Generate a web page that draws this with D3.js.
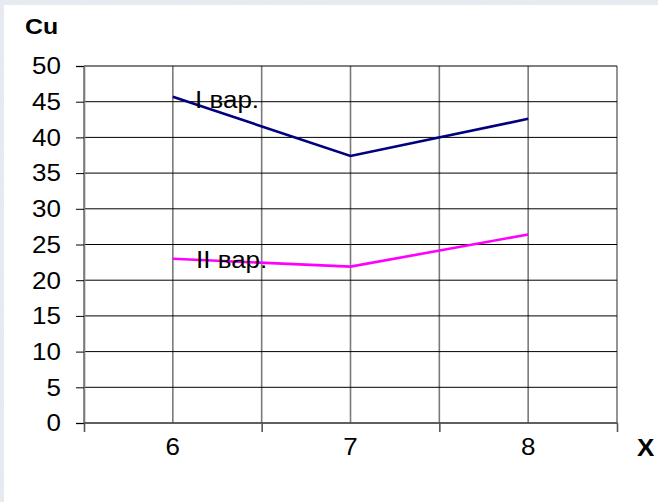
<!DOCTYPE html>
<html>
<head>
<meta charset="utf-8">
<script src="https://cdn.jsdelivr.net/npm/d3@7/dist/d3.min.js"></script>
<style>
  html, body { margin: 0; padding: 0; background: #fff; }
  svg { display: block; }
  text { font-family: "Liberation Sans", Arial, sans-serif; fill: #000; }
</style>
</head>
<body>
<svg id="chart" width="658" height="502"></svg>
<script>
// Categories along X and the two series of Cu values
const categories = ["6", "7", "8"];
const seriesI = [45.7, 37.4, 42.6];
const seriesII = [23.0, 21.9, 26.4];
const seriesNames = ["I вар.", "II вар."];
const yTicks = [0, 5, 10, 15, 20, 25, 30, 35, 40, 45, 50];

const svg = d3.select("#chart");
const W = 658, H = 502;
const FS = 23, SX = 1.13; // label size and horizontal stretch of the lettering

// Textured frame behind the white sheet
const defs = svg.append("defs");
const f = defs.append("filter").attr("id", "marble").attr("x", 0).attr("y", 0).attr("width", 1).attr("height", 1);
f.append("feTurbulence").attr("type", "fractalNoise").attr("baseFrequency", "0.08 0.25").attr("numOctaves", 3).attr("seed", 4);
f.append("feColorMatrix").attr("type", "matrix")
  .attr("values", "0 0 0 0 0.80  0 0 0 0 0.84  0 0 0 0 0.89  0 0 0 -1.1 1.0");
svg.append("rect").attr("width", W).attr("height", H).attr("fill", "#e6eaef");
svg.append("rect").attr("width", W).attr("height", H).attr("filter", "url(#marble)");
svg.append("rect").attr("x", 4).attr("y", 5).attr("width", W - 4).attr("height", H - 5).attr("fill", "#fff");

const plotL = 84, plotR = 617, plotT = 66, plotB = 423;

const x = d3.scaleLinear().domain([-0.5, categories.length - 0.5]).range([plotL, plotR]);
const y = d3.scaleLinear().domain([0, 50]).range([plotB, plotT]);

// Text helper: stretched lettering placed at (px, py)
function label(g, px, py, str, opts = {}) {
  return g.append("text")
    .attr("transform", `translate(${px},${py}) scale(${SX},1)`)
    .attr("font-size", opts.size || FS)
    .attr("font-weight", opts.bold ? "bold" : "normal")
    .attr("text-anchor", opts.anchor || "start")
    .attr("dominant-baseline", opts.baseline || "auto")
    .text(str);
}

// Vertical grid at category centres and boundaries
const vGrid = d3.range(-0.5, categories.length - 0.5 + 0.01, 0.5);
svg.append("g").selectAll("line").data(vGrid).join("line")
  .attr("x1", d => x(d)).attr("x2", d => x(d))
  .attr("y1", plotT).attr("y2", plotB)
  .attr("stroke", "#7a7a7a").attr("stroke-width", 1.6);

// Horizontal grid
svg.append("g").selectAll("line").data(yTicks).join("line")
  .attr("x1", plotL).attr("x2", plotR)
  .attr("y1", d => y(d)).attr("y2", d => y(d))
  .attr("stroke", "#000").attr("stroke-width", 1);

// Y axis with tick marks; labels drawn separately
const yAxis = svg.append("g").attr("transform", `translate(${plotL},0)`)
  .call(d3.axisLeft(y).tickValues(yTicks).tickSize(8).tickFormat(""));
yAxis.select(".domain").attr("stroke", "#7a7a7a").attr("stroke-width", 1.6);
yAxis.selectAll(".tick line").attr("stroke", "#000");
const yLab = svg.append("g");
yTicks.forEach(t => label(yLab, 61, y(t) + 8.3, String(t), { anchor: "end" }));

// X axis: tick marks at category boundaries, labels at centres
const xAxis = svg.append("g").attr("transform", `translate(0,${plotB})`)
  .call(d3.axisBottom(x).tickValues([-0.5, 0.5, 1.5, 2.5]).tickSize(9).tickFormat(""));
xAxis.select(".domain").remove();
xAxis.selectAll(".tick line").attr("stroke", "#555").attr("stroke-width", 1.6);
svg.append("line").attr("x1", plotL).attr("x2", plotR).attr("y1", plotB).attr("y2", plotB)
  .attr("stroke", "#555").attr("stroke-width", 1.4);
const xLab = svg.append("g");
categories.forEach((c, i) => label(xLab, x(i), 455, c, { anchor: "middle" }));

// Series lines
const line = d3.line().x((d, i) => x(i)).y(d => y(d));
svg.append("path").datum(seriesI).attr("d", line)
  .attr("fill", "none").attr("stroke", "#000080").attr("stroke-width", 2.6);
svg.append("path").datum(seriesII).attr("d", line)
  .attr("fill", "none").attr("stroke", "#ff00ff").attr("stroke-width", 2.6);

// Series names
label(svg, 195, 108, seriesNames[0]);
label(svg, 196, 268, seriesNames[1]);

// Axis titles
label(svg, 25, 34, "Cu", { bold: true, size: 22 });
label(svg, 637, 456, "X", { bold: true });
</script>
</body>
</html>
